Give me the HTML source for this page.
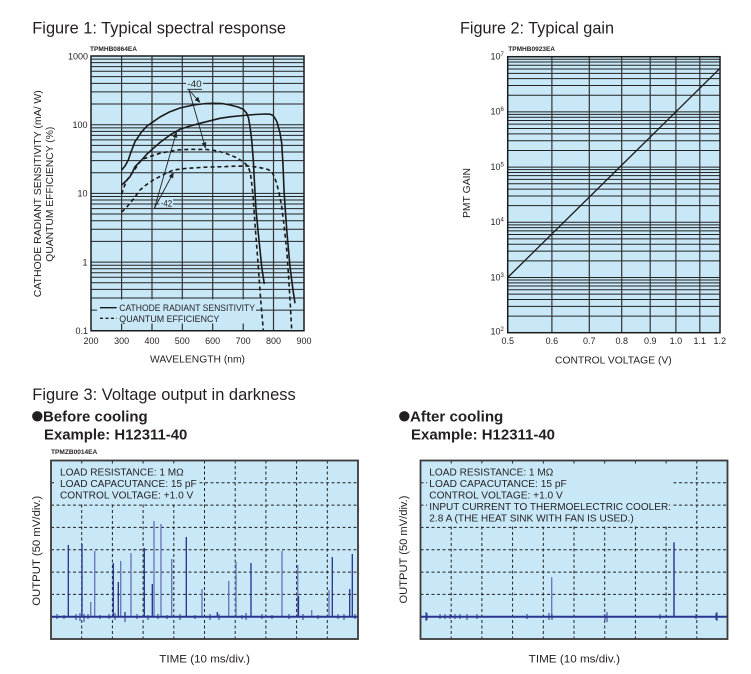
<!DOCTYPE html>
<html><head><meta charset="utf-8"><style>
html,body{margin:0;padding:0;background:#fff;}
svg{display:block;font-family:"Liberation Sans",Arial,sans-serif;}
</style></head><body>
<svg width="751" height="674" viewBox="0 0 751 674" xmlns="http://www.w3.org/2000/svg">
<defs>
<marker id="ah" markerWidth="6" markerHeight="6" refX="5.5" refY="3" orient="auto" markerUnits="userSpaceOnUse">
<path d="M0,0.6 L6,3 L0,5.4 Z" fill="#222"/>
</marker>
</defs>

<!-- ===== Titles ===== -->
<g fill="#231f20">
<text x="32.3" y="33.3" font-size="17" textLength="253.7" lengthAdjust="spacingAndGlyphs">Figure 1: Typical spectral response</text>
<text x="460" y="33.3" font-size="17" textLength="154" lengthAdjust="spacingAndGlyphs">Figure 2: Typical gain</text>
<text x="32.3" y="400" font-size="17" textLength="263.4" lengthAdjust="spacingAndGlyphs">Figure 3: Voltage output in darkness</text>
<circle cx="37.3" cy="416.3" r="5.2"/>
<text x="43" y="421.7" font-size="15" font-weight="bold" textLength="104.7" lengthAdjust="spacingAndGlyphs">Before cooling</text>
<text x="44" y="439.3" font-size="15" font-weight="bold" textLength="143.3" lengthAdjust="spacingAndGlyphs">Example: H12311-40</text>
<circle cx="404.3" cy="416.3" r="5.2"/>
<text x="410" y="421.7" font-size="15" font-weight="bold" textLength="93.3" lengthAdjust="spacingAndGlyphs">After cooling</text>
<text x="411" y="439.3" font-size="15" font-weight="bold" textLength="144" lengthAdjust="spacingAndGlyphs">Example: H12311-40</text>
<text x="90" y="51" font-size="6.5" font-weight="bold" textLength="47" lengthAdjust="spacingAndGlyphs">TPMHB0864EA</text>
<text x="508.3" y="51" font-size="6.5" font-weight="bold" textLength="46.7" lengthAdjust="spacingAndGlyphs">TPMHB0923EA</text>
<text x="51" y="454" font-size="6.5" font-weight="bold" textLength="46.3" lengthAdjust="spacingAndGlyphs">TPMZB0014EA</text>
</g>

<!-- ===== Figure 1 ===== -->
<rect x="91" y="56" width="213" height="274.75" fill="#c8e8f8"/>
<g stroke="#222" stroke-width="1" fill="none">
<path d="M91,59.14H304M91,62.66H304M91,66.64H304M91,71.24H304M91,76.68H304M91,83.33H304M91,91.92H304M91,104.01H304M91,124.69H304
M91,127.83H304M91,131.35H304M91,135.33H304M91,139.93H304M91,145.37H304M91,152.02H304M91,160.61H304M91,172.7H304M91,193.38H304
M91,196.52H304M91,200.04H304M91,204.02H304M91,208.62H304M91,214.06H304M91,220.71H304M91,229.3H304M91,241.39H304M91,262.07H304
M91,265.21H304M91,268.73H304M91,272.71H304M91,277.31H304M91,282.75H304M91,289.4H304M91,297.99H304M91,310.08H304"/>
<path stroke="#333" stroke-width="1.2" d="M121.6,56V330.75M152,56V330.75M182.3,56V330.75M212.7,56V330.75M243.2,56V330.75M273.5,56V330.75"/>
</g>
<!-- legend bg & labels bg -->
<rect x="97" y="299.5" width="159" height="24" fill="#c8e8f8"/>
<rect x="186" y="79" width="17" height="9" fill="#c8e8f8"/>
<rect x="159.5" y="198.5" width="13.5" height="8.5" fill="#c8e8f8"/>
<!-- curves -->
<g fill="none" stroke="#1a1a1a" stroke-width="1.6" stroke-linejoin="round">
<polyline points="121.7,170 125,166 128.3,160 131,152 135,141.7 141.7,131.7 147,126 153.3,121.7 160,117 170,111.7 180,108 193.3,105 206,103.5 213.3,103.3 222,103.5 230,105 238,107 243.3,109.3 246.7,113.3 248.5,118 250,126.7 251.7,140 253.3,160 254.6,185 256,210 258.3,233.3 261.7,266.7 264.3,284"/>
<polyline points="121.7,185 126,181 130,176.7 133,171 135,166.7 141.7,160 147,154 153.3,148.3 160,142.5 170,135 180,129.3 190,126 200,123.3 210,120.8 220,118.3 230,116.8 243.3,115.5 255,114.5 265,114 270,114.2 273,115.5 275,118.3 277,122 278.3,126.7 280,133 281.7,143.3 283,165 284,190 285.3,210 287,233 290,266.7 293,290 295,303.3"/>
<g stroke-dasharray="4,3">
<polyline points="121.7,194 124,187 127,180 130,176 133.3,171.7 137,166 140,161.7 143.3,159 150,156.5 160,153.3 176.7,150 190,149.3 206.7,149.5 215,150.5 225,153 235,157 243.3,161.7 248.3,166.7 250.5,174 251.7,183.3 253,195 254,210 255.7,233.3 258.3,266.7 260.7,300 263.3,330"/>
<polyline points="121.7,212 126,208 130,203.3 135,197 140,190 146,185 153.3,180 160,176.5 166,173.3 173.3,170 185,168.5 196.7,167.7 210,167 223.3,166.7 235,166.2 246.7,166 255,166.8 263.3,168.3 268,169.5 271.7,171.7 274,176 276.7,183.3 279,193 281.5,205 284,225 286.7,250 288.5,275 290,300 291.7,330"/>
</g>
</g>
<!-- annotations -->
<g stroke="#222" stroke-width="0.9" fill="none">
<line x1="189" y1="90" x2="200" y2="102.5" marker-end="url(#ah)"/>
<line x1="189" y1="90" x2="205.5" y2="148" marker-end="url(#ah)"/>
<line x1="187" y1="89.3" x2="202" y2="89.3"/>
<line x1="154.5" y1="208" x2="176.5" y2="132" marker-end="url(#ah)"/>
<line x1="154.5" y1="208" x2="173.5" y2="172.5" marker-end="url(#ah)"/>
<line x1="154" y1="208.3" x2="172" y2="208.3"/>
</g>
<g fill="#231f20" font-size="9">
<text x="187.3" y="87" textLength="14.4" lengthAdjust="spacingAndGlyphs">-40</text>
<text x="160.7" y="206.3" textLength="11.5" lengthAdjust="spacingAndGlyphs">-42</text>
</g>
<!-- legend -->
<line x1="100" y1="307.7" x2="116.7" y2="307.7" stroke="#1a1a1a" stroke-width="1.4"/>
<line x1="100" y1="318.3" x2="117" y2="318.3" stroke="#1a1a1a" stroke-width="1.4" stroke-dasharray="3,2.5"/>
<g fill="#231f20" font-size="9">
<text x="119.3" y="311.2" textLength="135.7" lengthAdjust="spacingAndGlyphs">CATHODE RADIANT SENSITIVITY</text>
<text x="119.3" y="321.8" textLength="100" lengthAdjust="spacingAndGlyphs">QUANTUM EFFICIENCY</text>
</g>
<rect x="91" y="56" width="213" height="274.75" fill="none" stroke="#1a1a1a" stroke-width="1.5"/>
<!-- fig1 axis labels -->
<g fill="#231f20" font-size="9" text-anchor="end">
<text x="88" y="59.3">1000</text>
<text x="87.5" y="128">100</text>
<text x="87.5" y="196.7">10</text>
<text x="87.5" y="265.4">1</text>
<text x="88" y="334">0.1</text>
</g>
<g fill="#231f20" font-size="9" text-anchor="middle">
<text x="91" y="344">200</text>
<text x="121.6" y="344">300</text>
<text x="152" y="344">400</text>
<text x="182.3" y="344">500</text>
<text x="212.7" y="344">600</text>
<text x="243.2" y="344">700</text>
<text x="273.5" y="344">800</text>
<text x="304" y="344">900</text>
</g>
<g fill="#231f20" font-size="10.2">
<text x="150" y="362.7" textLength="95" lengthAdjust="spacingAndGlyphs">WAVELENGTH (nm)</text>
<text transform="translate(40.8,193.7) rotate(-90)" text-anchor="middle" textLength="207" lengthAdjust="spacingAndGlyphs">CATHODE RADIANT SENSITIVITY (mA/ W)</text>
<text transform="translate(53,194.2) rotate(-90)" text-anchor="middle" textLength="135" lengthAdjust="spacingAndGlyphs">QUANTUM EFFICIENCY (%)</text>
</g>

<!-- ===== Figure 2 ===== -->
<rect x="507.7" y="56.7" width="212.3" height="276" fill="#c8e8f8"/>
<g stroke="#222" stroke-width="1" fill="none">
<path d="M507.7,59.23H720M507.7,62.05H720M507.7,65.25H720M507.7,68.95H720M507.7,73.32H720M507.7,78.67H720M507.7,85.56H720M507.7,95.28H720M507.7,111.9H720
M507.7,114.43H720M507.7,117.25H720M507.7,120.45H720M507.7,124.15H720M507.7,128.52H720M507.7,133.87H720M507.7,140.76H720M507.7,150.48H720M507.7,167.1H720
M507.7,169.63H720M507.7,172.45H720M507.7,175.65H720M507.7,179.35H720M507.7,183.72H720M507.7,189.07H720M507.7,195.96H720M507.7,205.68H720M507.7,222.3H720
M507.7,224.83H720M507.7,227.65H720M507.7,230.85H720M507.7,234.55H720M507.7,238.92H720M507.7,244.27H720M507.7,251.16H720M507.7,260.88H720M507.7,277.5H720
M507.7,280.03H720M507.7,282.85H720M507.7,286.05H720M507.7,289.75H720M507.7,294.12H720M507.7,299.47H720M507.7,306.36H720M507.7,316.08H720"/>
<path stroke="#333" stroke-width="1.2" d="M551.9,56.7V332.7M589.3,56.7V332.7M621.7,56.7V332.7M650.2,56.7V332.7M675.9,56.7V332.7M699.8,56.7V332.7"/>
</g>
<line x1="507.7" y1="277.5" x2="720" y2="68.3" stroke="#1a1a1a" stroke-width="1.3"/>
<rect x="507.7" y="56.7" width="212.3" height="276" fill="none" stroke="#1a1a1a" stroke-width="1.5"/>
<g fill="#231f20" font-size="9">
<text x="490.5" y="59.5">10<tspan font-size="6" dy="-3.5">7</tspan></text>
<text x="490.5" y="114.7">10<tspan font-size="6" dy="-3.5">6</tspan></text>
<text x="490.5" y="169.9">10<tspan font-size="6" dy="-3.5">5</tspan></text>
<text x="490.5" y="225.1">10<tspan font-size="6" dy="-3.5">4</tspan></text>
<text x="490.5" y="280.3">10<tspan font-size="6" dy="-3.5">3</tspan></text>
<text x="490.5" y="334.5">10<tspan font-size="6" dy="-3.5">2</tspan></text>
</g>
<g fill="#231f20" font-size="9" text-anchor="middle">
<text x="507.7" y="344">0.5</text>
<text x="551.9" y="344">0.6</text>
<text x="589.3" y="344">0.7</text>
<text x="621.7" y="344">0.8</text>
<text x="650.2" y="344">0.9</text>
<text x="675.9" y="344">1.0</text>
<text x="699.8" y="344">1.1</text>
<text x="719.7" y="344">1.2</text>
</g>
<g fill="#231f20" font-size="10">
<text x="555" y="363.3" textLength="116.7" lengthAdjust="spacingAndGlyphs">CONTROL VOLTAGE (V)</text>
<text transform="translate(470,193) rotate(-90)" text-anchor="middle" textLength="50" lengthAdjust="spacingAndGlyphs">PMT GAIN</text>
</g>

<!-- ===== Figure 3 left ===== -->
<rect x="51" y="460.5" width="307" height="178.5" fill="#c8e8f8"/>
<g stroke="#222" stroke-width="1" stroke-dasharray="3,2.5" fill="none">
<path d="M81.7,460.5V639M112.4,460.5V639M143.1,460.5V639M173.8,460.5V639M204.5,460.5V639M235.2,460.5V639M265.9,460.5V639M296.6,460.5V639M327.3,460.5V639"/>
<path d="M51,482.8H358M51,505.1H358M51,527.4H358M51,549.7H358M51,572.1H358M51,594.4H358M51,616.7H358"/>
</g>
<rect x="55" y="465.5" width="143" height="36.5" fill="#c8e8f8"/>
<g fill="#231f20" font-size="10">
<text x="60" y="475.7" textLength="123.7" lengthAdjust="spacingAndGlyphs">LOAD RESISTANCE: 1 MΩ</text>
<text x="60" y="487.1" textLength="136.7" lengthAdjust="spacingAndGlyphs">LOAD CAPACUTANCE: 15 pF</text>
<text x="60" y="498.5" textLength="133.3" lengthAdjust="spacingAndGlyphs">CONTROL VOLTAGE: +1.0 V</text>
</g>
<!-- trace -->
<g stroke-linecap="butt">
<g stroke="#6b78c0" stroke-width="1.4">
<path d="M90.7,616.7V602M94.7,616.7V551M120.7,616.7V561M131,616.7V553M154,616.7V521M161,616.7V524M171.7,616.7V559M202,616.7V589M228.7,616.7V581M236,616.7V562M282,616.7V551M297.7,616.7V565M311.7,616.7V610M329,616.7V590"/>
</g>
<g stroke="#26318c" stroke-width="1.3">
<path d="M68.3,616.7V545M82,616.7V544M113.3,616.7V563M118.3,616.7V582M125,616.7V612M144.3,616.7V548M152.3,616.7V584M186.3,616.7V537M217.3,616.7V612M251,616.7V563M298.5,616.7V596M332.3,616.7V557M349.7,616.7V589M352.3,616.7V554"/>
</g>
<path d="M51,616.7H358" stroke="#2a3590" stroke-width="2"/>
<path stroke="#2a3590" stroke-width="1" d="M57,614V619M64,615V619M76,614V620M80,613V621M84,614V622M88,614V619M100,615V619M109,614V619M115,613V620M125,612V622M137,614V619M148,615V620M158,614V619M167,615V619M180,614V620M195,615V619M210,614V620M219,614V620M242,615V619M246,613V620M262,614V619M272,615V619M289,614V619M303,614V620M318,615V619M338,614V619M344,614V620M355,614V619"/>
</g>
<rect x="51" y="460.5" width="307" height="178.5" fill="none" stroke="#3a3a3a" stroke-width="1.8"/>
<g fill="#231f20" font-size="11">
<text x="159.3" y="662.7" textLength="90.7" lengthAdjust="spacingAndGlyphs">TIME (10 ms/div.)</text>
<text transform="translate(40,550.8) rotate(-90)" text-anchor="middle" textLength="110" lengthAdjust="spacingAndGlyphs">OUTPUT (50 mV/div.)</text>
</g>

<!-- ===== Figure 3 right ===== -->
<rect x="420.5" y="460.5" width="307" height="178.5" fill="#c8e8f8"/>
<g stroke="#222" stroke-width="1" stroke-dasharray="3,2.5" fill="none">
<path d="M451.2,460.5V639M481.9,460.5V639M512.6,460.5V639M543.3,460.5V639M574,460.5V639M604.7,460.5V639M635.4,460.5V639M666.1,460.5V639M696.8,460.5V639"/>
<path d="M420.5,482.8H727.5M420.5,505.1H727.5M420.5,527.4H727.5M420.5,549.7H727.5M420.5,572.1H727.5M420.5,594.4H727.5M420.5,616.7H727.5"/>
</g>
<rect x="427" y="465.5" width="245.5" height="59.5" fill="#c8e8f8"/>
<g fill="#231f20" font-size="10">
<text x="429.3" y="475.7" textLength="124" lengthAdjust="spacingAndGlyphs">LOAD RESISTANCE: 1 MΩ</text>
<text x="429.3" y="487.1" textLength="137.4" lengthAdjust="spacingAndGlyphs">LOAD CAPACUTANCE: 15 pF</text>
<text x="429.3" y="498.5" textLength="133.4" lengthAdjust="spacingAndGlyphs">CONTROL VOLTAGE: +1.0 V</text>
<text x="429.3" y="510.2" textLength="241.7" lengthAdjust="spacingAndGlyphs">INPUT CURRENT TO THERMOELECTRIC COOLER:</text>
<text x="429.3" y="521.7" textLength="204.4" lengthAdjust="spacingAndGlyphs">2.8 A (THE HEAT SINK WITH FAN IS USED.)</text>
</g>
<g>
<path d="M551.7,616.7V577.3" stroke="#6b78c0" stroke-width="1.4"/>
<path d="M674,616.7V542.3" stroke="#26318c" stroke-width="1.4"/>
<path d="M420.5,616.7H727.5" stroke="#2a3590" stroke-width="2"/>
<path stroke="#2a3590" stroke-width="1" d="M426,612V621M427,613V620M440,614V619M445,614V619M450,614V619M455,614V619M460,614V619M467,614V620M477,614V619M527,614V619M549,613V620M552,614V620M605,614V620M607,612V622M660,614V619M696,614V619M716,613V620M717,612V621"/>
</g>
<rect x="420.5" y="460.5" width="307" height="178.5" fill="none" stroke="#3a3a3a" stroke-width="1.8"/>
<g fill="#231f20" font-size="11">
<text x="528.7" y="662.7" textLength="91.3" lengthAdjust="spacingAndGlyphs">TIME (10 ms/div.)</text>
<text transform="translate(407,549.5) rotate(-90)" text-anchor="middle" textLength="108" lengthAdjust="spacingAndGlyphs">OUTPUT (50 mV/div.)</text>
</g>
</svg>
</body></html>
